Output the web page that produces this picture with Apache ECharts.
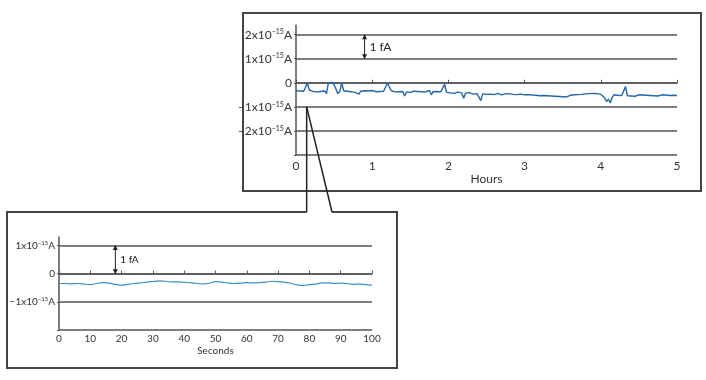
<!DOCTYPE html>
<html><head><meta charset="utf-8">
<script src="https://cdn.jsdelivr.net/npm/echarts@6/dist/echarts.min.js"></script>
<style>html,body{margin:0;padding:0;background:#fff}#c{width:706px;height:380px}</style>
</head><body><div id="c"></div>
<script>
// Top panel: hours vs current (fA)
var hours = [0.000,0.025,0.050,0.075,0.100,0.125,0.150,0.175,0.200,0.225,0.250,0.275,0.300,0.325,0.350,0.375,0.400,0.425,0.450,0.475,0.500,0.525,0.550,0.575,0.600,0.625,0.650,0.675,0.700,0.725,0.750,0.775,0.800,0.825,0.850,0.875,0.900,0.925,0.950,0.975,
1.000,1.025,1.050,1.075,1.100,1.125,1.150,1.175,1.200,1.225,1.250,1.275,1.300,1.325,1.350,1.375,1.400,1.425,1.450,1.475,1.500,1.525,1.550,1.575,1.600,1.625,1.650,1.675,1.700,1.725,1.750,1.775,1.800,1.825,1.850,1.875,1.900,1.925,1.950,1.975,
2.000,2.025,2.050,2.075,2.100,2.125,2.150,2.175,2.200,2.225,2.250,2.275,2.300,2.325,2.350,2.375,2.400,2.425,2.450,2.475,2.500,2.525,2.550,2.575,2.600,2.625,2.650,2.675,2.700,2.725,2.750,2.775,2.800,2.825,2.850,2.875,2.900,2.925,2.950,2.975,
3.000,3.025,3.050,3.075,3.100,3.125,3.150,3.175,3.200,3.225,3.250,3.275,3.300,3.325,3.350,3.375,3.400,3.425,3.450,3.475,3.500,3.525,3.550,3.575,3.600,3.625,3.650,3.675,3.700,3.725,3.750,3.775,3.800,3.825,3.850,3.875,3.900,3.925,3.950,3.975,
4.000,4.025,4.050,4.075,4.100,4.125,4.150,4.175,4.200,4.225,4.250,4.275,4.300,4.325,4.350,4.375,4.400,4.425,4.450,4.475,4.500,4.525,4.550,4.575,4.600,4.625,4.650,4.675,4.700,4.725,4.750,4.775,4.800,4.825,4.850,4.875,4.900,4.925,4.950,4.975,5.000];
var currentHours = [-0.33,-0.31,-0.34,-0.32,-0.35,-0.31,-0.02,-0.30,-0.33,-0.36,-0.31,-0.38,-0.33,-0.36,-0.40,-0.34,-0.45,0.00,-0.02,0.01,-0.08,-0.01,-0.45,-0.36,0.01,-0.33,-0.31,-0.35,-0.33,-0.37,-0.34,-0.40,-0.33,-0.47,-0.35,-0.38,-0.33,-0.36,-0.34,-0.37,
-0.32,-0.35,-0.37,-0.34,-0.36,-0.38,-0.35,-0.37,-0.01,0.00,-0.33,-0.36,-0.38,-0.35,-0.37,-0.39,-0.36,-0.55,-0.38,-0.36,-0.40,-0.37,-0.35,-0.38,-0.36,-0.39,-0.37,-0.35,-0.38,-0.36,-0.32,-0.50,-0.37,-0.40,-0.36,-0.42,-0.38,-0.35,-0.06,-0.40,
-0.38,-0.42,-0.40,-0.44,-0.41,-0.39,-0.45,-0.42,-0.64,-0.43,-0.46,-0.41,-0.44,-0.47,-0.43,-0.45,-0.42,-0.74,-0.46,-0.44,-0.48,-0.45,-0.47,-0.43,-0.49,-0.46,-0.44,-0.48,-0.50,-0.47,-0.45,-0.49,-0.46,-0.50,-0.48,-0.52,-0.49,-0.51,-0.47,-0.53,
-0.50,-0.52,-0.49,-0.54,-0.51,-0.55,-0.52,-0.50,-0.54,-0.56,-0.53,-0.57,-0.54,-0.58,-0.55,-0.59,-0.56,-0.60,-0.57,-0.61,-0.58,-0.62,-0.59,-0.56,-0.52,-0.55,-0.50,-0.53,-0.49,-0.51,-0.48,-0.50,-0.46,-0.49,-0.45,-0.48,-0.44,-0.47,-0.45,-0.43,
-0.48,-0.55,-0.62,-0.78,-0.68,-0.84,-0.60,-0.50,-0.56,-0.52,-0.55,-0.53,-0.57,-0.16,-0.54,-0.51,-0.55,-0.52,-0.56,-0.53,-0.50,-0.54,-0.51,-0.55,-0.52,-0.49,-0.53,-0.50,-0.54,-0.51,-0.55,-0.52,-0.50,-0.54,-0.51,-0.49,-0.53,-0.50,-0.52,-0.49,-0.53];
// Bottom panel: seconds vs current (fA)
var seconds = [0,2,4,6,8,10,12,14,16,18,20,22,24,26,28,30,32,34,36,38,40,42,44,46,48,50,52,54,56,58,60,62,64,66,68,70,72,74,76,78,80,82,84,86,88,90,92,94,96,98,100];
var currentSeconds = [-0.35,-0.35,-0.36,-0.35,-0.37,-0.39,-0.35,-0.32,-0.34,-0.38,-0.41,-0.38,-0.35,-0.33,-0.30,-0.28,-0.26,-0.27,-0.29,-0.29,-0.31,-0.32,-0.35,-0.36,-0.34,-0.28,-0.30,-0.33,-0.35,-0.34,-0.32,-0.33,-0.32,-0.30,-0.27,-0.28,-0.30,-0.34,-0.40,-0.42,-0.39,-0.37,-0.33,-0.33,-0.35,-0.34,-0.35,-0.38,-0.37,-0.39,-0.41];
var hourTicks = [0,1,2,3,4,5];
var secondTicks = [0,10,20,30,40,50,60,70,80,90,100];
var scaleBar = [1, 2];      // "1 fA" arrow on top panel (fA)
var scaleBar2 = [0, 1];     // "1 fA" arrow on bottom panel (fA)

function zip(a,b){return a.map(function(v,i){return [v,b[i]];});}
var FONT = 'Lato';
function yFmt(v){
  if (v === 0) return '0';
  if (v < -2.5 || v > 2.5) return '';
  var n = Math.round(v);
  return '{n|' + (n < 0 ? '\u2212' + (-n) : n) + 'x10}{s|\u221215}{n|A}';
}
function richFor(fs, ss){
  return { n:{fontSize:fs,color:'#333',fontFamily:FONT}, s:{fontSize:ss,color:'#333',fontFamily:FONT,padding:[0,0,Math.round(fs*0.45),0]} };
}
var lineC = '#555';
var chart = echarts.init(document.getElementById('c'), null, {renderer:'canvas'});
var opt = {
  animation:false,
  backgroundColor:'#fff',
  grid:[
    {left:296, right:29, top:25, bottom:225},
    {left:59, right:334, top:237, bottom:50}
  ],
  xAxis:[
    {gridIndex:0, type:'value', min:0, max:5, interval:1,
     axisLine:{lineStyle:{color:lineC,width:1.5}}, axisTick:{inside:true,length:3,lineStyle:{color:lineC}},
     splitLine:{show:false},
     axisLabel:{color:'#333',fontSize:12,fontFamily:FONT,margin:5},
     name:'Hours', nameLocation:'middle', nameGap:17, nameTextStyle:{color:'#333',fontSize:12,fontFamily:FONT}},
    {gridIndex:1, type:'value', min:0, max:100, interval:10,
     axisLine:{lineStyle:{color:lineC,width:1.5}}, axisTick:{inside:true,length:3,lineStyle:{color:lineC}},
     splitLine:{show:false},
     axisLabel:{color:'#333',fontSize:10,fontFamily:FONT,margin:4},
     name:'Seconds', nameLocation:'middle', nameGap:16, nameTextStyle:{color:'#333',fontSize:10,fontFamily:FONT}}
  ],
  yAxis:[
    {gridIndex:0, type:'value', min:-3, max:2.4, interval:1,
     axisLine:{show:true,lineStyle:{color:lineC,width:1.5}}, axisTick:{show:true,length:2,lineStyle:{color:lineC}},
     splitLine:{show:true,showMaxLine:false,lineStyle:{color:lineC,width:1.5}},
     axisLabel:{formatter:yFmt, margin:4, showMaxLabel:false, rich:richFor(12,7), color:'#333',fontSize:12,fontFamily:FONT}},
    {gridIndex:1, type:'value', min:-2, max:1.3, interval:1,
     axisLine:{show:true,lineStyle:{color:lineC,width:1.5}}, axisTick:{show:true,length:2,lineStyle:{color:lineC}},
     splitLine:{show:true,showMaxLine:false,lineStyle:{color:lineC,width:1.5}},
     axisLabel:{formatter:function(v){ if(v<-1.5) return ''; return yFmt(v);}, margin:4, showMaxLabel:false, rich:richFor(10,6), color:'#333',fontSize:10,fontFamily:FONT}}
  ],
  series:[
    {type:'line', xAxisIndex:0, yAxisIndex:0, data:zip(hours,currentHours), showSymbol:false,
     lineStyle:{color:'#2466a8',width:1.4}, z:3},
    {type:'line', xAxisIndex:0, yAxisIndex:0, data:[[0.9,scaleBar[0]],[0.9,scaleBar[1]]], showSymbol:false,
     lineStyle:{color:'#222',width:1}, silent:true,
     markPoint:{symbol:'triangle', symbolSize:[5,5], itemStyle:{color:'#222'}, label:{show:false},
       data:[{coord:[0.9,scaleBar[1]],symbolOffset:[0,2]},{coord:[0.9,scaleBar[0]],symbolRotate:180,symbolOffset:[0,-2]}]}},
    {type:'line', xAxisIndex:1, yAxisIndex:1, data:zip(seconds,currentSeconds), showSymbol:false, smooth:0.3,
     lineStyle:{color:'#3d8fcc',width:1.2}, z:3},
    {type:'line', xAxisIndex:1, yAxisIndex:1, data:[[18,scaleBar2[0]],[18,scaleBar2[1]]], showSymbol:false,
     lineStyle:{color:'#222',width:1}, silent:true,
     markPoint:{symbol:'triangle', symbolSize:[5,5], itemStyle:{color:'#222'}, label:{show:false},
       data:[{coord:[18,scaleBar2[1]],symbolOffset:[0,2]},{coord:[18,scaleBar2[0]],symbolRotate:180,symbolOffset:[0,-2]}]}}
  ]
};
chart.setOption(opt);
var a1 = chart.convertToPixel({xAxisIndex:0,yAxisIndex:0},[0.9,1.5]);
var a2 = chart.convertToPixel({xAxisIndex:1,yAxisIndex:1},[18,0.5]);
var anc = chart.convertToPixel({xAxisIndex:0,yAxisIndex:0},[0.14,-1]);
var bx0=7, by0=212, bx1=397, by1=368, cx2=332;
chart.setOption({graphic:[
  {type:'rect', shape:{x:243,y:13,width:458,height:178}, style:{fill:'none',stroke:'#444',lineWidth:2}, z:-1, silent:true},
  {type:'polyline', shape:{points:[[anc[0],by0],[bx0,by0],[bx0,by1],[bx1,by1],[bx1,by0],[cx2,by0]]}, style:{fill:'none',stroke:'#444',lineWidth:2}, silent:true},
  {type:'line', shape:{x1:anc[0],y1:anc[1],x2:anc[0],y2:by0}, style:{stroke:'#222',lineWidth:1.5}, silent:true},
  {type:'line', shape:{x1:anc[0],y1:anc[1],x2:cx2,y2:by0}, style:{stroke:'#222',lineWidth:1.5}, silent:true},
  {type:'text', x:a1[0]+5, y:a1[1], style:{text:'1 fA', fill:'#222', font:'12px Lato', verticalAlign:'middle'}, silent:true},
  {type:'text', x:a2[0]+5, y:a2[1], style:{text:'1 fA', fill:'#222', font:'10px Lato', verticalAlign:'middle'}, silent:true}
]});
</script></body></html>
